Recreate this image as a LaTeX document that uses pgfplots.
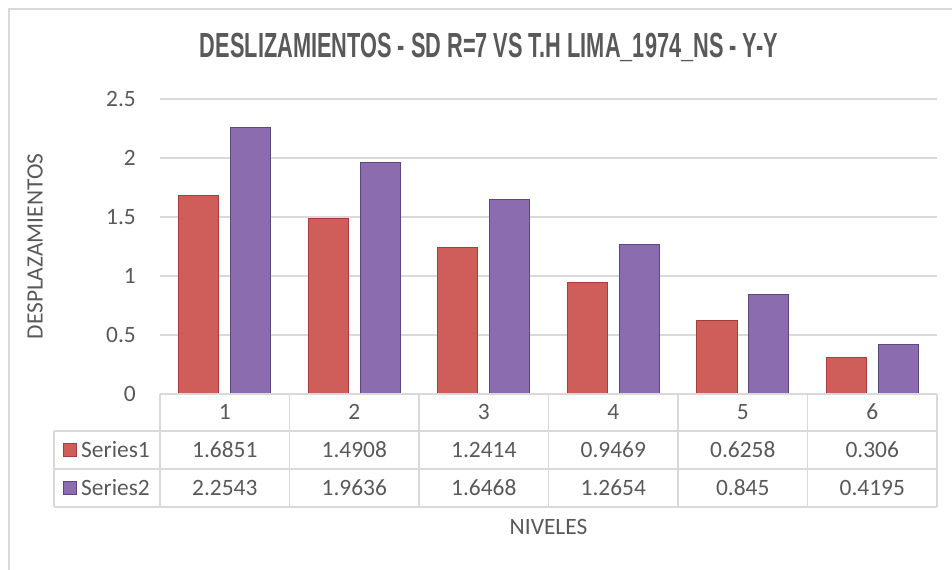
\documentclass[border=0pt]{standalone}
\usepackage{pgfplots}
\pgfplotsset{compat=1.18}
\usepackage{pgfplotstable}
\usepackage{graphicx}
\usepackage{fontspec}
\setmainfont{Carlito}
\newfontfamily\titlefont{Liberation Sans}
\definecolor{txt}{HTML}{595959}
\definecolor{gridc}{HTML}{D9D9D9}
\definecolor{redm}{HTML}{CF5D59}
\definecolor{redd}{HTML}{A23E3B}
\definecolor{purm}{HTML}{8A6CAF}
\definecolor{purd}{HTML}{5E4682}
\newcommand\fs{\fontsize{23.5}{27}\selectfont}

\pgfplotstableread{
lvl s1 s2
1 1.6851 2.2543
2 1.4908 1.9636
3 1.2414 1.6468
4 0.9469 1.2654
5 0.6258 0.845
6 0.306 0.4195
}\datatable

\begin{document}
\begin{tikzpicture}[x=1bp,y=1bp]
\path[use as bounding box] (0,0) rectangle (952,570);
\draw[gridc, line width=1.5bp] (9,0) -- (9,561) -- (952,561);
\begin{axis}[
  at={(160bp,176bp)}, anchor=south west,
  scale only axis, width=777bp, height=295bp,
  xmin=0.5, xmax=6.5, ymin=0, ymax=2.5,
  axis line style={draw=none},
  major tick length=0pt,
  xtick=\empty,
  ytick={0,0.5,1,1.5,2,2.5},
  ymajorgrids, grid style={gridc, line width=1.5bp},
  /pgf/number format/assume math mode=true,
  yticklabel style={font=\fs, text=txt, anchor=east, inner sep=0pt, xshift=-24bp},
  clip=false,
]
\addplot[ybar, bar width=0.309, bar shift=-0.199, draw=redd, line width=1bp, fill=redm]
  table[x=lvl, y=s1] {\datatable};
\addplot[ybar, bar width=0.309, bar shift=0.199, draw=purd, line width=1bp, fill=purm]
  table[x=lvl, y=s2] {\datatable};
\end{axis}
% data table grid
\begin{scope}[gridc, line width=1.5bp]
\draw (160,176) -- (937,176);
\draw (54,139) -- (937,139);
\draw (54,101) -- (937,101);
\draw (54,63) -- (937,63);
\draw (54,139) -- (54,63);
\foreach \k in {0,...,6} { \draw (160+129.5*\k,176) -- (160+129.5*\k,63); }
\end{scope}
% header labels
\foreach \k in {1,...,6} { \node[font=\fs, text=txt] at (160+129.5*\k-64.75,158) {\k}; }
% series values
\pgfplotstableforeachcolumnelement{s1}\of\datatable\as\cell{%
  \pgfmathsetmacro\xx{160+129.5*(\pgfplotstablerow+0.5)}%
  \node[font=\fs, text=txt] at (\xx,120) {\cell};%
}
\pgfplotstableforeachcolumnelement{s2}\of\datatable\as\cell{%
  \pgfmathsetmacro\xx{160+129.5*(\pgfplotstablerow+0.5)}%
  \node[font=\fs, text=txt] at (\xx,82) {\cell};%
}
% legend keys
\draw[redd, fill=redm, line width=0.8bp] (63.5,113.5) rectangle (76.5,126.5);
\draw[purd, fill=purm, line width=0.8bp] (63.5,75.5) rectangle (76.5,88.5);
\node[font=\fs, text=txt, anchor=west, inner sep=0pt] at (81,120) {Series1};
\node[font=\fs, text=txt, anchor=west, inner sep=0pt] at (81,82) {Series2};
% axis titles
\node[font=\fs, text=txt] at (548.5,43) {NIVELES};
\node[font=\fs, text=txt, rotate=90] at (35,323.5) {DESPLAZAMIENTOS};
% chart title
\node[text=txt, inner sep=0pt] at (489,523) {\resizebox{578bp}{\height}{\titlefont\bfseries\fontsize{35}{38}\selectfont DESLIZAMIENTOS - SD R=7 VS T.H LIMA\_1974\_NS - Y-Y}};
\end{tikzpicture}
\end{document}
